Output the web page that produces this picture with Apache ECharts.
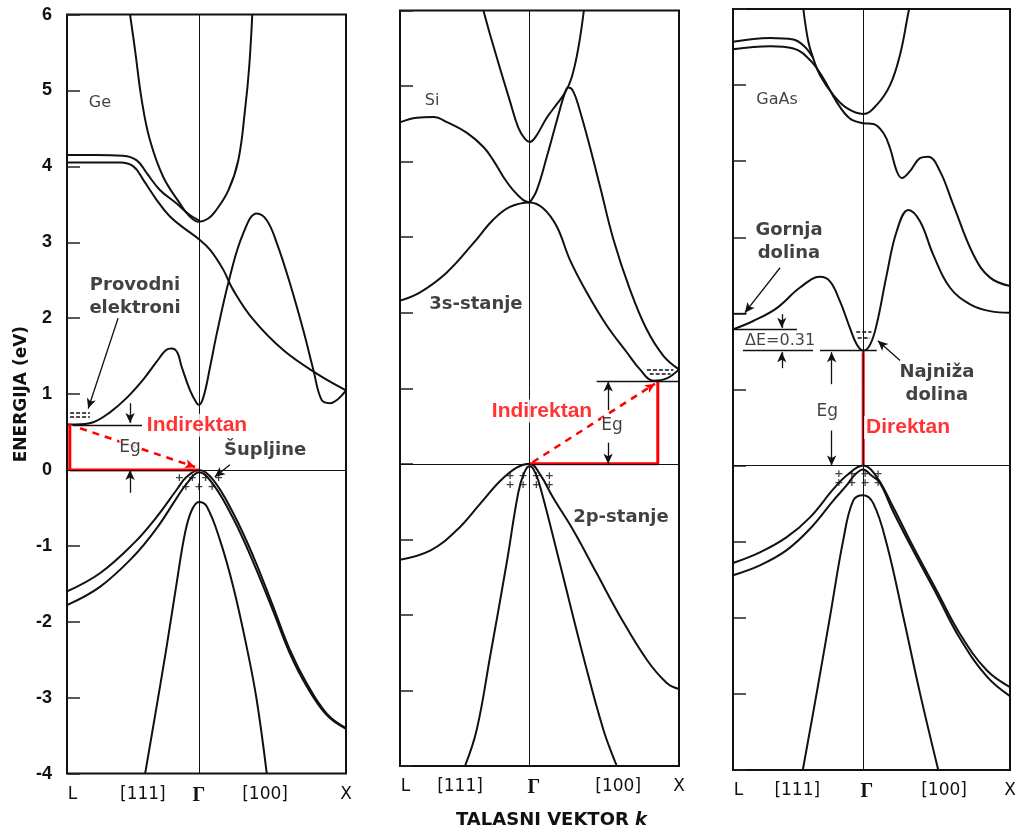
<!DOCTYPE html>
<html><head><meta charset="utf-8">
<script src="https://cdn.jsdelivr.net/npm/echarts@6/dist/echarts.min.js"></script>
<style>html,body{margin:0;padding:0;background:#fff}#c{width:1021px;height:834px}</style>
</head><body><div id="c"></div>
<script>
// ---------- DATA (x: position along k path, L=0 ... X=100; E in eV) ----------
const xTickNames = ['L', '[111]', 'Γ', '[100]', 'X'];
const geTickPos = [2, 27.2, 47.3, 71, 100];
const siTickPos = [2, 21.5, 48, 78.2, 100];
const gaTickPos = [2, 23.2, 48.3, 76.2, 100];

// Ge
const geCond1 = [[22.6,6.0],[24.4,5.53],[26.8,4.87],[29.7,4.35],[34.5,3.86],[40.5,3.51],[44,3.34],[47.3,3.27],[50.5,3.31],[53,3.40],[57.8,3.68],[61.4,4.08],[63.8,4.74],[65.3,5.31],[66.4,6.0]];
const geCond2 = [[0,4.15],[10,4.15],[20,4.14],[25,4.08],[28.6,3.91],[33.3,3.69],[39.3,3.51],[44,3.36],[47.3,3.29]];
const geCond3 = [[0,4.05],[10,4.05],[19,4.05],[23.8,4.0],[27.4,3.82],[32.1,3.56],[36.9,3.34],[42.9,3.16],[47.3,3.04],[51.3,2.90],[56,2.64],[59.6,2.37],[66.8,1.98],[77.5,1.58],[89.5,1.27],[100,1.05]];
const geCond4 = [[0,0.60],[3,0.60],[9.4,0.63],[15.4,0.76],[21.4,0.95],[27.3,1.19],[32,1.42],[35.5,1.58],[37.5,1.60],[39.5,1.55],[41.1,1.36],[44.1,1.05],[46.5,0.88],[47.3,0.86],[48.9,0.96],[51.3,1.36],[53.7,1.80],[58.4,2.55],[63.2,3.12],[68,3.38],[71.6,3.29],[75.2,2.99],[79.9,2.46],[84.7,1.84],[88.3,1.32],[91.3,0.92],[94.3,0.88],[97,0.93],[100,1.05]];
const geVal1 = [[0,-1.60],[11.8,-1.36],[23.8,-0.97],[32.1,-0.62],[39.3,-0.26],[42.9,-0.09],[47.3,0],[52.4,-0.13],[59.6,-0.57],[66.8,-1.14],[73.9,-1.80],[79.9,-2.37],[85.9,-2.81],[93.1,-3.21],[100,-3.40]];
const geVal2 = [[0,-1.78],[11.8,-1.54],[23.8,-1.14],[32.1,-0.77],[39.3,-0.37],[42.9,-0.18],[47.3,-0.03],[52.4,-0.19],[59.6,-0.64],[66.8,-1.22],[73.9,-1.86],[79.9,-2.42],[85.9,-2.85],[93.1,-3.23],[100,-3.41]];
const geVal3 = [[28.0,-4.0],[32.1,-3.12],[35.7,-2.33],[39.3,-1.49],[42.3,-0.83],[44.7,-0.53],[47.3,-0.42],[50.1,-0.48],[54.8,-0.92],[59.6,-1.54],[64.4,-2.33],[68,-3.03],[71.6,-4.0]];
const geGap = [[1,0.61],[1,0],[47.3,0]];

// Si
const siCond1 = [[29.9,6.0],[32.3,5.68],[35.8,5.24],[39.4,4.80],[42.4,4.45],[44.8,4.30],[46.5,4.26],[48.5,4.32],[52.6,4.58],[56.2,4.76],[59.1,4.91],[61.5,5.11],[63.9,5.50],[65.9,6.0]];
const siCond2 = [[0,4.52],[6,4.58],[12,4.59],[17,4.52],[24,4.38],[30,4.19],[33.4,4.02],[37,3.80],[40.6,3.62],[44.2,3.49],[46.5,3.46]];
const siCond3 = [[46.5,3.46],[49,3.62],[52.6,4.06],[56.2,4.54],[59.1,4.91],[60.3,4.98],[62.1,4.93],[64.5,4.67],[68.1,4.19],[71.7,3.67],[76.5,2.97],[82.4,2.31],[88.4,1.78],[94.4,1.43],[100,1.25]];
const siCond4 = [[0,2.16],[7.2,2.27],[16.7,2.53],[26.3,2.92],[33.4,3.23],[39.4,3.40],[46.5,3.46],[51.4,3.38],[56.2,3.14],[60.9,2.70],[66.9,2.27],[74.1,1.83],[81.2,1.48],[86,1.25],[90.8,1.10],[95.6,1.13],[100,1.25]];
const siVal1 = [[0,-1.27],[10.8,-1.15],[20.3,-0.88],[28.7,-0.53],[35.8,-0.23],[41.8,-0.05],[46.5,0],[50.2,-0.14],[54.9,-0.45],[62.1,-0.88],[70.5,-1.45],[78.9,-2.02],[88.4,-2.59],[95.6,-2.90],[100,-2.98]];
const siVal2 = [[23.3,-4.0],[27.5,-3.52],[32.3,-2.55],[38.2,-1.32],[42.4,-0.38],[44.5,-0.12],[46.5,-0.03],[48.5,-0.12],[50.8,-0.38],[57.3,-1.32],[65.7,-2.55],[72.9,-3.52],[77.7,-4.0]];
const siGap = [[46.5,0],[92.4,0],[92.4,1.09]];

// GaAs
const gaCond1 = [[25.4,6.0],[27.2,5.57],[29,5.35],[31.4,5.13],[36.2,4.87],[41,4.70],[47,4.62],[51.9,4.74],[56.7,5.0],[60.3,5.40],[63.3,5.95],[63.6,6.0]];
const gaCond2 = [[0,5.57],[13.4,5.62],[21.8,5.60],[26,5.5],[29,5.35]];
const gaCond3 = [[0,5.47],[13.4,5.51],[21.8,5.48],[27.8,5.33],[32.6,5.09],[37.4,4.78],[42.2,4.56],[47,4.50],[50.7,4.49],[54.3,4.37],[56.7,4.17],[59.1,3.87],[60.9,3.78],[63.9,3.87],[67.5,4.04],[70.5,4.06],[74.7,3.87],[79.5,3.43],[86.8,2.77],[92.8,2.47],[100,2.36]];
const gaCond4 = [[0,1.79],[7.3,1.90],[15.8,2.07],[24.2,2.34],[31.4,2.48],[35,2.42],[38.6,2.16],[42.2,1.81],[44.7,1.59],[47,1.51],[49.5,1.59],[51.9,1.86],[55.5,2.51],[59.1,3.08],[63.3,3.36],[67.5,3.21],[72.3,2.77],[78.3,2.34],[85.6,2.12],[92.8,2.03],[100,2.01]];
const gaVal1 = [[0,-1.28],[9.7,-1.14],[19.4,-0.94],[27.8,-0.68],[36.2,-0.31],[41,-0.13],[47,0],[51.9,-0.15],[57.9,-0.55],[65.1,-1.07],[73.5,-1.64],[81.9,-2.21],[91.6,-2.69],[100,-2.91]];
const gaVal2 = [[0,-1.44],[9.7,-1.31],[19.4,-1.11],[27.8,-0.83],[36.2,-0.46],[41,-0.26],[44,-0.12],[47,-0.05],[50,-0.13],[52.9,-0.22],[57.9,-0.61],[65.1,-1.12],[73.5,-1.69],[81.9,-2.27],[91.6,-2.77],[100,-3.03]];
const gaVal3 = [[25.2,-4.0],[30.2,-2.99],[35,-1.99],[39.8,-0.98],[43.4,-0.46],[47,-0.39],[50.7,-0.50],[55.5,-1.03],[61.5,-1.99],[67.5,-2.99],[74.1,-4.0]];
const gaGap = [[47,0],[47,1.49]];

// ---------- CHART ----------
const INK = '#111';
const panels = [
  { grid:{left:67, top:14.6, width:279, height:759}, gamma:47.3, tickPos:geTickPos,
    curves:[geCond1,geCond2,geCond3,geCond4,geVal1,geVal2,geVal3], red:geGap,
    texts:[
      ['Ge',11.8,4.84,'plain'], ['Provodni\nelektroni',24.4,2.28,'bold'], ['Eg',22.6,0.29,'eg'],
      ['Indirektan',46.6,0.59,'red'], ['Šupljine',71,0.26,'bold'], ['+ + + +\n+ + +',47.3,-0.17,'plus']
    ],
    segs:[
      ['arrow',18.3,2.0,7.6,0.81], ['dash',1.1,0.75,8.2,0.75], ['dash',1.1,0.70,8.2,0.70],
      ['line',2,0.59,26.9,0.59], ['arrow',22.6,0.88,22.6,0.62], ['arrow',22.6,-0.30,22.6,0],
      ['redDash',4.7,0.55,45.9,0.04], ['arrow',58.4,0.07,53,-0.09]
    ] },
  { grid:{left:400, top:10.5, width:279, height:761.5}, gamma:46.5, tickPos:siTickPos,
    curves:[siCond1,siCond2,siCond3,siCond4,siVal1,siVal2], red:siGap,
    texts:[
      ['Si',11.5,4.80,'plain'], ['3s-stanje',27.2,2.11,'bold'], ['2p-stanje',79.2,-0.71,'bold'],
      ['Indirektan',50.9,0.70,'red'], ['Eg',76,0.50,'eg'], ['+ + + +\n+ + + +',46.5,-0.22,'plus']
    ],
    segs:[
      ['line',70.5,1.09,100,1.09], ['arrow',74.6,0.71,74.6,1.09], ['arrow',74.6,0.28,74.6,0],
      ['redDash',47.5,0.02,91.4,1.06], ['dash',88.5,1.24,98,1.24], ['dash',89.5,1.19,97,1.19]
    ] },
  { grid:{left:733, top:9, width:277, height:761}, gamma:47, tickPos:gaTickPos,
    curves:[gaCond1,gaCond2,gaCond3,gaCond4,gaVal1,gaVal2,gaVal3], red:gaGap,
    texts:[
      ['GaAs',15.9,4.81,'plain'], ['Gornja\ndolina',20.2,2.94,'bold'], ['ΔE=0.31',17,1.64,'de'],
      ['Eg',34,0.71,'eg'], ['Direktan',63.2,0.50,'red'], ['Najniža\ndolina',73.6,1.07,'bold'],
      ['+ + + +\n+ + + +',45.3,-0.17,'plus']
    ],
    segs:[
      ['arrow',17,2.60,4.3,2.01], ['line',0,2.0,5,2.0], ['line',0,1.79,23.1,1.79],
      ['line',3.6,1.51,28.9,1.51], ['line',31.4,1.51,51.9,1.51],
      ['arrow',17.6,1.99,17.6,1.81], ['arrow',17.6,1.28,17.6,1.49],
      ['arrow',35.6,1.07,35.6,1.49], ['arrow',35.6,0.46,35.6,0],
      ['arrow',60.3,1.38,52.3,1.64], ['dash',44.5,1.76,50,1.76], ['dash',45,1.68,49.5,1.68]
    ] }
];

const textStyles = {
  plain:{fontSize:16, fontFamily:'DejaVu Sans', color:INK},
  bold:{fontSize:18, fontWeight:'bold', fontFamily:'DejaVu Sans', color:INK, lineHeight:23},
  red:{fontSize:21, fontWeight:'bold', fontFamily:'Liberation Sans', color:'#f00', backgroundColor:'#fff', padding:[1,2]},
  eg:{fontSize:17, fontFamily:'DejaVu Sans', color:INK, backgroundColor:'#fff'},
  de:{fontSize:16, fontFamily:'DejaVu Sans', color:INK},
  plus:{fontSize:11, fontWeight:'bold', fontFamily:'DejaVu Sans', color:INK, lineHeight:9}
};

function segItem(s){
  const [kind,x1,y1,x2,y2] = s;
  const isArrow = kind === 'arrow' || kind === 'redDash';
  const ls = kind === 'redDash' ? {color:'#f00', width:2.5, type:[7,6]}
           : kind === 'dash' ? {color:INK, width:1.5, type:[4,2]}
           : {color:INK, width:1.3, type:'solid'};
  return [
    {coord:[x1,y1], symbol:'none', lineStyle:ls},
    {coord:[x2,y2], symbol:isArrow?'arrow':'none', symbolSize:[7,10], itemStyle:{color:ls.color}, lineStyle:ls}
  ];
}

const series = [];
panels.forEach((p,i) => {
  series.push({
    type:'line', xAxisIndex:i, yAxisIndex:i, data:[], silent:true,
    markLine:{
      silent:true, animation:false, symbol:['none','none'], label:{show:false},
      emphasis:{disabled:true},
      lineStyle:{color:INK, width:1, type:'solid'},
      data:[
        [{coord:[p.gamma,-4],symbol:'none'},{coord:[p.gamma,6],symbol:'none'}],
        [{coord:[0,0],symbol:'none'},{coord:[100,0],symbol:'none'}]
      ].concat(p.segs.map(segItem))
    }
  });
  p.curves.forEach(c => series.push({
    type:'line', xAxisIndex:i, yAxisIndex:i, data:c, smooth:0.4, showSymbol:false, symbol:'none',
    silent:true, z:3, lineStyle:{color:INK, width:2}
  }));
  series.push({
    type:'line', xAxisIndex:i, yAxisIndex:i, data:p.red, smooth:false, showSymbol:false, symbol:'none',
    silent:true, z:4, lineStyle:{color:'#f00', width:3}
  });
  series.push({
    type:'scatter', xAxisIndex:i, yAxisIndex:i, symbolSize:1, silent:true, z:10,
    itemStyle:{color:'rgba(0,0,0,0)'},
    label:{show:true, position:'inside'},
    data:p.texts.map(t => ({value:[t[1],t[2]], label:Object.assign({show:true, position:'inside', formatter:t[0]}, textStyles[t[3]])}))
  });
});

const option = {
  animation:false,
  backgroundColor:'#fff',
  grid: panels.map(p => Object.assign({show:true, borderColor:INK, borderWidth:2, backgroundColor:'transparent'}, p.grid)),
  xAxis: panels.map((p,i) => ({
    gridIndex:i, type:'value', min:0, max:100,
    axisLine:{show:false}, axisTick:{show:false}, splitLine:{show:false},
    axisLabel:{
      customValues:p.tickPos, margin:12, fontSize:17, color:INK, fontFamily:'DejaVu Sans',
      formatter: v => { const k = p.tickPos.indexOf(v); const n = k >= 0 ? xTickNames[k] : ''; return n === 'Γ' ? '{g|Γ}' : n; },
      rich:{g:{fontFamily:'Liberation Serif', fontSize:20, fontWeight:'bold', color:INK}}
    },
    name: i === 1 ? 'TALASNI VEKTOR {k|k}' : '',
    nameLocation:'middle', nameGap:45,
    nameTextStyle:{fontSize:18, fontWeight:'bold', fontFamily:'DejaVu Sans', color:INK, padding:[0,0,0,24],
      rich:{k:{fontSize:18, fontWeight:'bold', fontStyle:'italic', fontFamily:'DejaVu Sans', color:INK}}}
  })),
  yAxis: panels.map((p,i) => ({
    gridIndex:i, type:'value', min:-4, max:6, interval:1,
    axisLine:{show:false}, splitLine:{show:false},
    axisTick:{show:true, inside:true, length:13, lineStyle:{color:'#222', width:1.5}},
    axisLabel:{show:i === 0, fontSize:18, fontWeight:'bold', fontFamily:'Liberation Sans', color:INK, margin:15},
    name: i === 0 ? 'ENERGIJA (eV)' : '', nameLocation:'middle', nameGap:37,
    nameTextStyle:{fontSize:17, fontWeight:'bold', fontFamily:'DejaVu Sans', color:INK}
  })),
  series
};

const chart = echarts.init(document.getElementById('c'), null, {renderer:'canvas'});
chart.setOption(option);
</script></body></html>
